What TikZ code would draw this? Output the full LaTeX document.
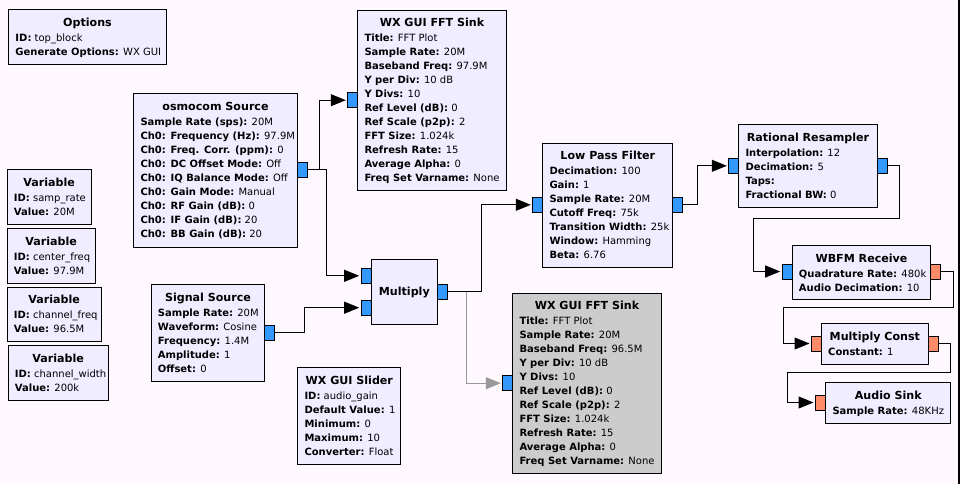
\documentclass[tikz,border=0pt]{standalone}
\usepackage{fontspec}
\setmainfont{DejaVu Sans}
\usetikzlibrary{arrows.meta,calc}
\definecolor{bgc}{HTML}{FFF9FF}
\definecolor{blkc}{HTML}{EFEDFF}
\definecolor{offc}{HTML}{CCCCCC}
\definecolor{cplx}{HTML}{3399FF}
\definecolor{flt}{HTML}{FF8C69}
\definecolor{dis}{HTML}{999999}
\newcommand{\pn}[1]{\textbf{#1}}
\newcommand{\grcblock}[7]{%
  \node[blk,#1,minimum width=#4,minimum height=#5,anchor=north west] (#2) at (#3) {};
  \node[ttl,anchor=base] (#2-t) at ([yshift=-17]#2.north) {#6};
  \node[prm,anchor=base west] (#2-p) at ([xshift=7,yshift=-32.2]#2.north west)
    {\begin{tabular}[t]{@{}l@{}}#7\end{tabular}};
}
\newcommand{\grcport}[4]{% name, color, west x, center y
  \node[port,fill=#2,anchor=west] (#1) at (#3,#4) {};
}
\tikzset{
  blk/.style={draw=black,line width=1pt,fill=blkc,inner sep=0pt},
  ttl/.style={inner sep=0pt,font=\fontsize{11.1}{12}\selectfont\bfseries},
  prm/.style={inner sep=0pt,font=\fontsize{10}{14}\selectfont},
  port/.style={draw=black,line width=1pt,minimum width=10,minimum height=15,inner sep=0pt},
  wire/.style={draw=black,line width=1pt,-{Triangle[length=15pt,width=12pt]},shorten >=1.5pt},
  gwire/.style={draw=dis,line width=1pt,-{Triangle[length=15pt,width=12pt]},shorten >=1.5pt},
}
\begin{document}
\begin{tikzpicture}[x=1pt,y=1pt]
\fill[bgc] (0,0) rectangle (960,-484);
\useasboundingbox (0,0) rectangle (960,-484);
\draw[line width=1.5pt] (959,0) -- (959,-484);

\grcblock{}{opt}{8.3,-9.3}{157.4}{55}{Options}{\pn{ID:} top\_block\\ \pn{Generate Options:} WX GUI}
\grcblock{}{fft1}{357.3,-9.7}{148.4}{180.6}{WX GUI FFT Sink}{\pn{Title:} FFT Plot\\ \pn{Sample Rate:} 20M\\ \pn{Baseband Freq:} 97.9M\\ \pn{Y per Div:} 10 dB\\ \pn{Y Divs:} 10\\ \pn{Ref Level (dB):} 0\\ \pn{Ref Scale (p2p):} 2\\ \pn{FFT Size:} 1.024k\\ \pn{Refresh Rate:} 15\\ \pn{Average Alpha:} 0\\ \pn{Freq Set Varname:} None}
\grcblock{}{osmo}{133.3,-93.3}{163.4}{153.4}{osmocom Source}{\pn{Sample Rate (sps):} 20M\\ \pn{Ch0: Frequency (Hz):} 97.9M\\ \pn{Ch0: Freq. Corr. (ppm):} 0\\ \pn{Ch0: DC Offset Mode:} Off\\ \pn{Ch0: IQ Balance Mode:} Off\\ \pn{Ch0: Gain Mode:} Manual\\ \pn{Ch0: RF Gain (dB):} 0\\ \pn{Ch0: IF Gain (dB):} 20\\ \pn{Ch0: BB Gain (dB):} 20}
\grcblock{}{var1}{6.7,-169.3}{84}{54.7}{Variable}{\pn{ID:} samp\_rate\\ \pn{Value:} 20M}
\grcblock{}{var2}{6.7,-228.3}{88}{55}{Variable}{\pn{ID:} center\_freq\\ \pn{Value:} 97.9M}
\grcblock{}{var3}{6.7,-286.7}{94}{54.3}{Variable}{\pn{ID:} channel\_freq\\ \pn{Value:} 96.5M}
\grcblock{}{var4}{7.7,-345.3}{100}{54.7}{Variable}{\pn{ID:} channel\_width\\ \pn{Value:} 200k}
\grcblock{}{sig}{150.7,-284.3}{113.6}{97}{Signal Source}{\pn{Sample Rate:} 20M\\ \pn{Waveform:} Cosine\\ \pn{Frequency:} 1.4M\\ \pn{Amplitude:} 1\\ \pn{Offset:} 0}
\grcblock{}{sld}{297.3,-367.3}{103}{97}{WX GUI Slider}{\pn{ID:} audio\_gain\\ \pn{Default Value:} 1\\ \pn{Minimum:} 0\\ \pn{Maximum:} 10\\ \pn{Converter:} Float}
\grcblock{}{lpf}{542.3,-142.7}{130}{124.3}{Low Pass Filter}{\pn{Decimation:} 100\\ \pn{Gain:} 1\\ \pn{Sample Rate:} 20M\\ \pn{Cutoff Freq:} 75k\\ \pn{Transition Width:} 25k\\ \pn{Window:} Hamming\\ \pn{Beta:} 6.76}
\grcblock{}{rr}{738.3,-124.3}{138.4}{83}{Rational Resampler}{\pn{Interpolation:} 12\\ \pn{Decimation:} 5\\ \pn{Taps:}\\ \pn{Fractional BW:} 0}
\grcblock{}{wbfm}{791.7,-245}{138.6}{54.3}{WBFM Receive}{\pn{Quadrature Rate:} 480k\\ \pn{Audio Decimation:} 10}
\grcblock{}{mc}{821,-323.3}{106.7}{41}{Multiply Const}{\pn{Constant:} 1}
\grcblock{}{as}{825.3,-382.3}{125}{41}{Audio Sink}{\pn{Sample Rate:} 48KHz}
\grcblock{fill=offc}{fft2}{512.3,-292.7}{148.4}{180.6}{WX GUI FFT Sink}{\pn{Title:} FFT Plot\\ \pn{Sample Rate:} 20M\\ \pn{Baseband Freq:} 96.5M\\ \pn{Y per Div:} 10 dB\\ \pn{Y Divs:} 10\\ \pn{Ref Level (dB):} 0\\ \pn{Ref Scale (p2p):} 2\\ \pn{FFT Size:} 1.024k\\ \pn{Refresh Rate:} 15\\ \pn{Average Alpha:} 0\\ \pn{Freq Set Varname:} None}

\node[blk,minimum width=65.7,minimum height=65,anchor=north west] (mul) at (371,-259.3) {};
\node[ttl] (mul-t) at (mul.center) {Multiply};

% ports
\grcport{osmo-o}{cplx}{296.7}{-169.8}
\grcport{fft1-i}{cplx}{347.3}{-100.2}
\grcport{mul-i0}{cplx}{360.7}{-275.8}
\grcport{mul-i1}{cplx}{360.7}{-307.7}
\grcport{mul-o}{cplx}{436.7}{-291.8}
\grcport{sig-o}{cplx}{264.3}{-332.7}
\grcport{fft2-i}{cplx}{502.3}{-383.2}
\grcport{lpf-i}{cplx}{532.3}{-204.8}
\grcport{lpf-o}{cplx}{672.3}{-204.8}
\grcport{rr-i}{cplx}{728.3}{-165.8}
\grcport{rr-o}{cplx}{876.7}{-165.8}
\grcport{wbfm-i}{cplx}{781.7}{-271.5}
\grcport{wbfm-o}{flt}{930.3}{-271.5}
\grcport{mc-i}{flt}{811}{-343.5}
\grcport{mc-o}{flt}{927.7}{-343.5}
\grcport{as-i}{flt}{815}{-402.5}

% connections
\draw[gwire] (mul-o.east) -- ++(18.6,0) |- (fft2-i.west);
\draw[wire] (osmo-o.east) -- ++(11.6,0) |- (fft1-i.west);
\draw[wire] (osmo-o.east) -- ++(18.3,0) |- (mul-i0.west);
\draw[wire] (sig-o.east) -- ++(29,0) |- (mul-i1.west);
\draw[wire] (mul-o.east) -- ++(33.3,0) |- (lpf-i.west);
\draw[wire] (lpf-o.east) -- ++(14.4,0) |- (rr-i.west);
\draw[wire] (rr-o.east) -- ++(11.6,0) -- ++(0,-52.5) -| ++(-146,0) |- (wbfm-i.west);
\draw[wire] (wbfm-o.east) -- ++(12,0) -- ++(0,-35.8) -- ++(-169.6,0) |- (mc-i.west);
\draw[wire] (mc-o.east) -- ++(11.6,0) -- ++(0,-29.2) -- ++(-162.6,0) |- (as-i.west);
\end{tikzpicture}
\end{document}
